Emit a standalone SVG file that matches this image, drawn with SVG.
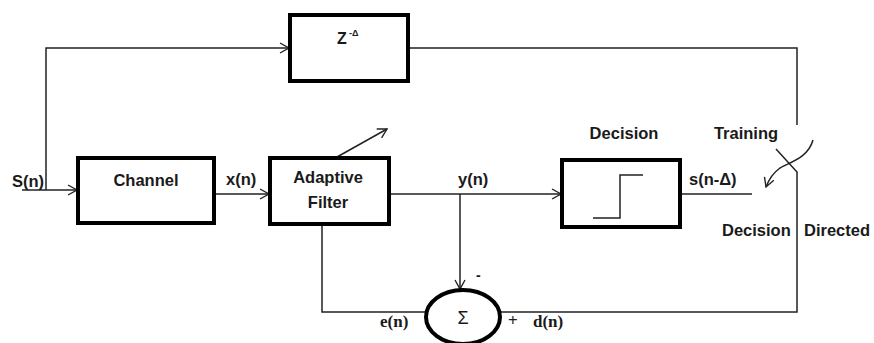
<svg xmlns="http://www.w3.org/2000/svg" width="874" height="343" viewBox="0 0 874 343">
<defs>
<marker id="arr" markerUnits="userSpaceOnUse" markerWidth="12" markerHeight="12" refX="10" refY="6" orient="auto">
<path d="M1,1 L10,6 L1,11" fill="none" stroke="#222" stroke-width="1.4"/>
</marker>
<style>
.box{fill:#fff;stroke:#000;stroke-width:4}
.ln{fill:none;stroke:#222;stroke-width:1.5}
.t{font-family:"Liberation Sans",Arial,sans-serif;font-weight:bold;font-size:16.5px;fill:#1a1a1a}
.s{font-family:"Liberation Serif","Times New Roman",serif;font-weight:bold;font-size:17px;fill:#1a1a1a}
</style>
</defs>
<rect width="874" height="343" fill="#fff"/>
<g id="connectors">
<polyline class="ln" points="22,190 77,190" marker-end="url(#arr)"/>
<polyline class="ln" points="46,190 46,48 289,48" marker-end="url(#arr)"/>
<polyline class="ln" points="214,194 269,194" marker-end="url(#arr)"/>
<polyline class="ln" points="389,194 561,194" marker-end="url(#arr)"/>
<polyline class="ln" points="460,194 460,289" marker-end="url(#arr)"/>
<polyline class="ln" points="680,194 752,194"/>
<polyline class="ln" points="408,48 797,48 797,125"/>
<polyline class="ln" points="322,224 322,312 426,312"/>
<polyline class="ln" points="500,312 797,312 797,172 776,149"/>
<path class="ln" d="M813,140 C808,158 790,162 780,168 C773,173 769,179 766,187" marker-end="url(#arr)"/>
<line class="ln" x1="337" y1="157" x2="387" y2="129" marker-end="url(#arr)"/>
</g>
<g id="z-delay">
<rect class="box" x="290" y="15" width="118" height="66"/>
<text class="t" x="337" y="44" style="font-size:16px">Z</text>
<text class="t" x="349" y="36" style="font-size:9px">-Δ</text>
</g>
<g id="channel">
<rect class="box" x="78" y="158" width="136" height="65"/>
<text class="t" x="146" y="186" text-anchor="middle">Channel</text>
</g>
<g id="adaptive-filter">
<rect class="box" x="270" y="158" width="119" height="66"/>
<text class="t" x="328" y="183" text-anchor="middle">Adaptive</text>
<text class="t" x="328" y="208" text-anchor="middle">Filter</text>
</g>
<g id="decision">
<rect class="box" x="562" y="160" width="118" height="67"/>
<polyline class="ln" points="593,218 620,218 620,175 643,175"/>
<text class="t" x="624" y="139" text-anchor="middle">Decision</text>
</g>
<g id="sum">
<ellipse cx="463" cy="317" rx="37" ry="27" fill="#fff" stroke="#000" stroke-width="4"/>
<text class="t" x="463" y="324" text-anchor="middle" style="font-size:18px;font-weight:normal">Σ</text>
</g>
<g id="labels">
<text class="t" x="12" y="187">S(n)</text>
<text class="t" x="226" y="185">x(n)</text>
<text class="t" x="458" y="185">y(n)</text>
<text class="t" x="689" y="185">s(n-Δ)</text>
<text class="t" x="746" y="139" text-anchor="middle">Training</text>
<text class="t" x="722" y="236">Decision</text>
<text class="t" x="804" y="236">Directed</text>
<text class="t" x="476" y="280" style="font-size:14px">-</text>
<text class="s" x="380" y="327">e(n)</text>
<text class="s" x="508" y="326">+</text>
<text class="s" x="533" y="327">d(n)</text>
</g>
</svg>
